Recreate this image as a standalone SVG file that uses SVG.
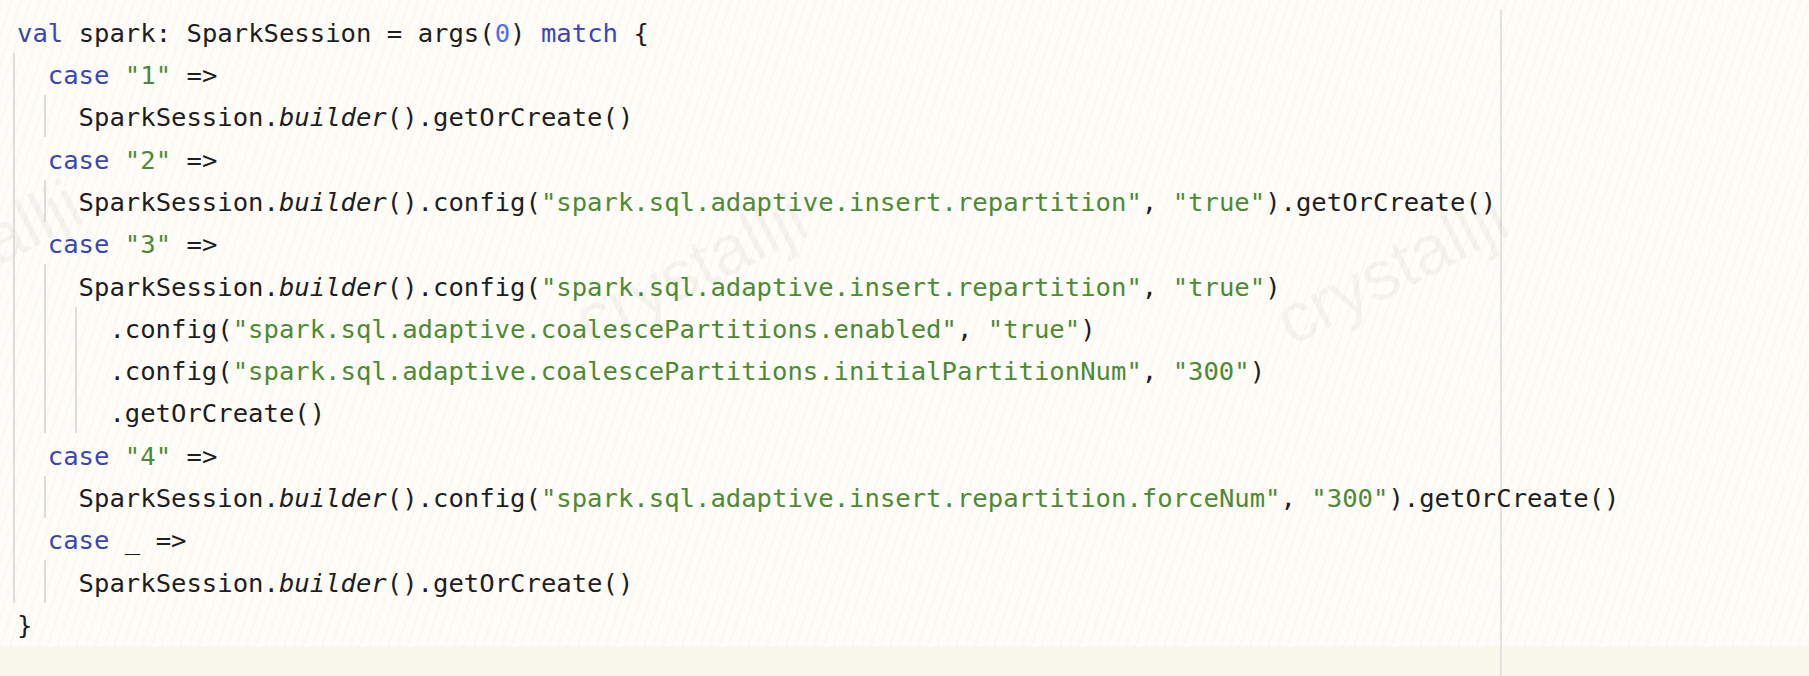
<svg xmlns="http://www.w3.org/2000/svg" width="1809" height="676" viewBox="0 0 1809 676">
  <style>
    .code { font-family: "DejaVu Sans Mono", "Liberation Mono", monospace; font-size: 25.6px; fill: #1e1e1e; }
    .k { fill: #3b45b5; }
    .s { fill: #4e8a34; }
    .n { fill: #4f6ef0; }
    .i { font-style: italic; }
    .guide { stroke: #dcdcdc; stroke-width: 2; }
    .wm { font-family: "Liberation Sans", "Noto Sans", sans-serif; font-size: 70px; fill: #000000; fill-opacity: 0.04; }
  </style>
  <defs>
    <pattern id="grain" width="9" height="60" patternUnits="userSpaceOnUse" patternTransform="rotate(18)">
      <line x1="2" y1="0" x2="2" y2="60" stroke="#f5f0dc" stroke-width="1" stroke-opacity="0.7"/>
    </pattern>
  </defs>

  <g id="background">
    <rect x="0" y="0" width="1809" height="676" fill="#fefdf9"/>
    <rect x="0" y="0" width="1809" height="646" fill="url(#grain)"/>
    <rect x="0" y="646" width="1809" height="30" fill="#faf8ec"/>
    <line x1="1501" y1="9" x2="1501" y2="676" stroke="#e2e2e2" stroke-width="2"/>
  </g>

  <g id="watermarks">
    <text class="wm" x="-35" y="280" text-anchor="middle" transform="rotate(-27 -35 255)">crystallji</text>
    <text class="wm" x="690" y="293" text-anchor="middle" transform="rotate(-27 690 268)">crystallji</text>
    <text class="wm" x="1391" y="293" text-anchor="middle" transform="rotate(-27 1391 268)">crystallji</text>
  </g>

  <g id="indent-guides">
    <line class="guide" x1="14" y1="53" x2="14" y2="603"/>
    <line class="guide" x1="45" y1="95" x2="45" y2="137"/>
    <line class="guide" x1="45" y1="180" x2="45" y2="222"/>
    <line class="guide" x1="45" y1="264" x2="45" y2="433"/>
    <line class="guide" x1="45" y1="476" x2="45" y2="518"/>
    <line class="guide" x1="45" y1="560" x2="45" y2="603"/>
    <line class="guide" x1="76" y1="307" x2="76" y2="433"/>
  </g>

  <g id="code">
    <text class="code" xml:space="preserve" x="17" y="41.7"><tspan class="k">val</tspan> spark: SparkSession = args(<tspan class="n">0</tspan>) <tspan class="k">match</tspan> {</text>
    <text class="code" xml:space="preserve" x="47.8" y="84"><tspan class="k">case</tspan> <tspan class="s">"1"</tspan> =&gt;</text>
    <text class="code" xml:space="preserve" x="78.6" y="126.3">SparkSession.<tspan class="i">builder</tspan>().getOrCreate()</text>
    <text class="code" xml:space="preserve" x="47.8" y="168.6"><tspan class="k">case</tspan> <tspan class="s">"2"</tspan> =&gt;</text>
    <text class="code" xml:space="preserve" x="78.6" y="210.9">SparkSession.<tspan class="i">builder</tspan>().config(<tspan class="s">"spark.sql.adaptive.insert.repartition"</tspan>, <tspan class="s">"true"</tspan>).getOrCreate()</text>
    <text class="code" xml:space="preserve" x="47.8" y="253.2"><tspan class="k">case</tspan> <tspan class="s">"3"</tspan> =&gt;</text>
    <text class="code" xml:space="preserve" x="78.6" y="295.5">SparkSession.<tspan class="i">builder</tspan>().config(<tspan class="s">"spark.sql.adaptive.insert.repartition"</tspan>, <tspan class="s">"true"</tspan>)</text>
    <text class="code" xml:space="preserve" x="109.4" y="337.8">.config(<tspan class="s">"spark.sql.adaptive.coalescePartitions.enabled"</tspan>, <tspan class="s">"true"</tspan>)</text>
    <text class="code" xml:space="preserve" x="109.4" y="380.1">.config(<tspan class="s">"spark.sql.adaptive.coalescePartitions.initialPartitionNum"</tspan>, <tspan class="s">"300"</tspan>)</text>
    <text class="code" xml:space="preserve" x="109.4" y="422.4">.getOrCreate()</text>
    <text class="code" xml:space="preserve" x="47.8" y="464.7"><tspan class="k">case</tspan> <tspan class="s">"4"</tspan> =&gt;</text>
    <text class="code" xml:space="preserve" x="78.6" y="507">SparkSession.<tspan class="i">builder</tspan>().config(<tspan class="s">"spark.sql.adaptive.insert.repartition.forceNum"</tspan>, <tspan class="s">"300"</tspan>).getOrCreate()</text>
    <text class="code" xml:space="preserve" x="47.8" y="549.3"><tspan class="k">case</tspan> _ =&gt;</text>
    <text class="code" xml:space="preserve" x="78.6" y="591.6">SparkSession.<tspan class="i">builder</tspan>().getOrCreate()</text>
    <text class="code" xml:space="preserve" x="17" y="633.9">}</text>
  </g>
</svg>
